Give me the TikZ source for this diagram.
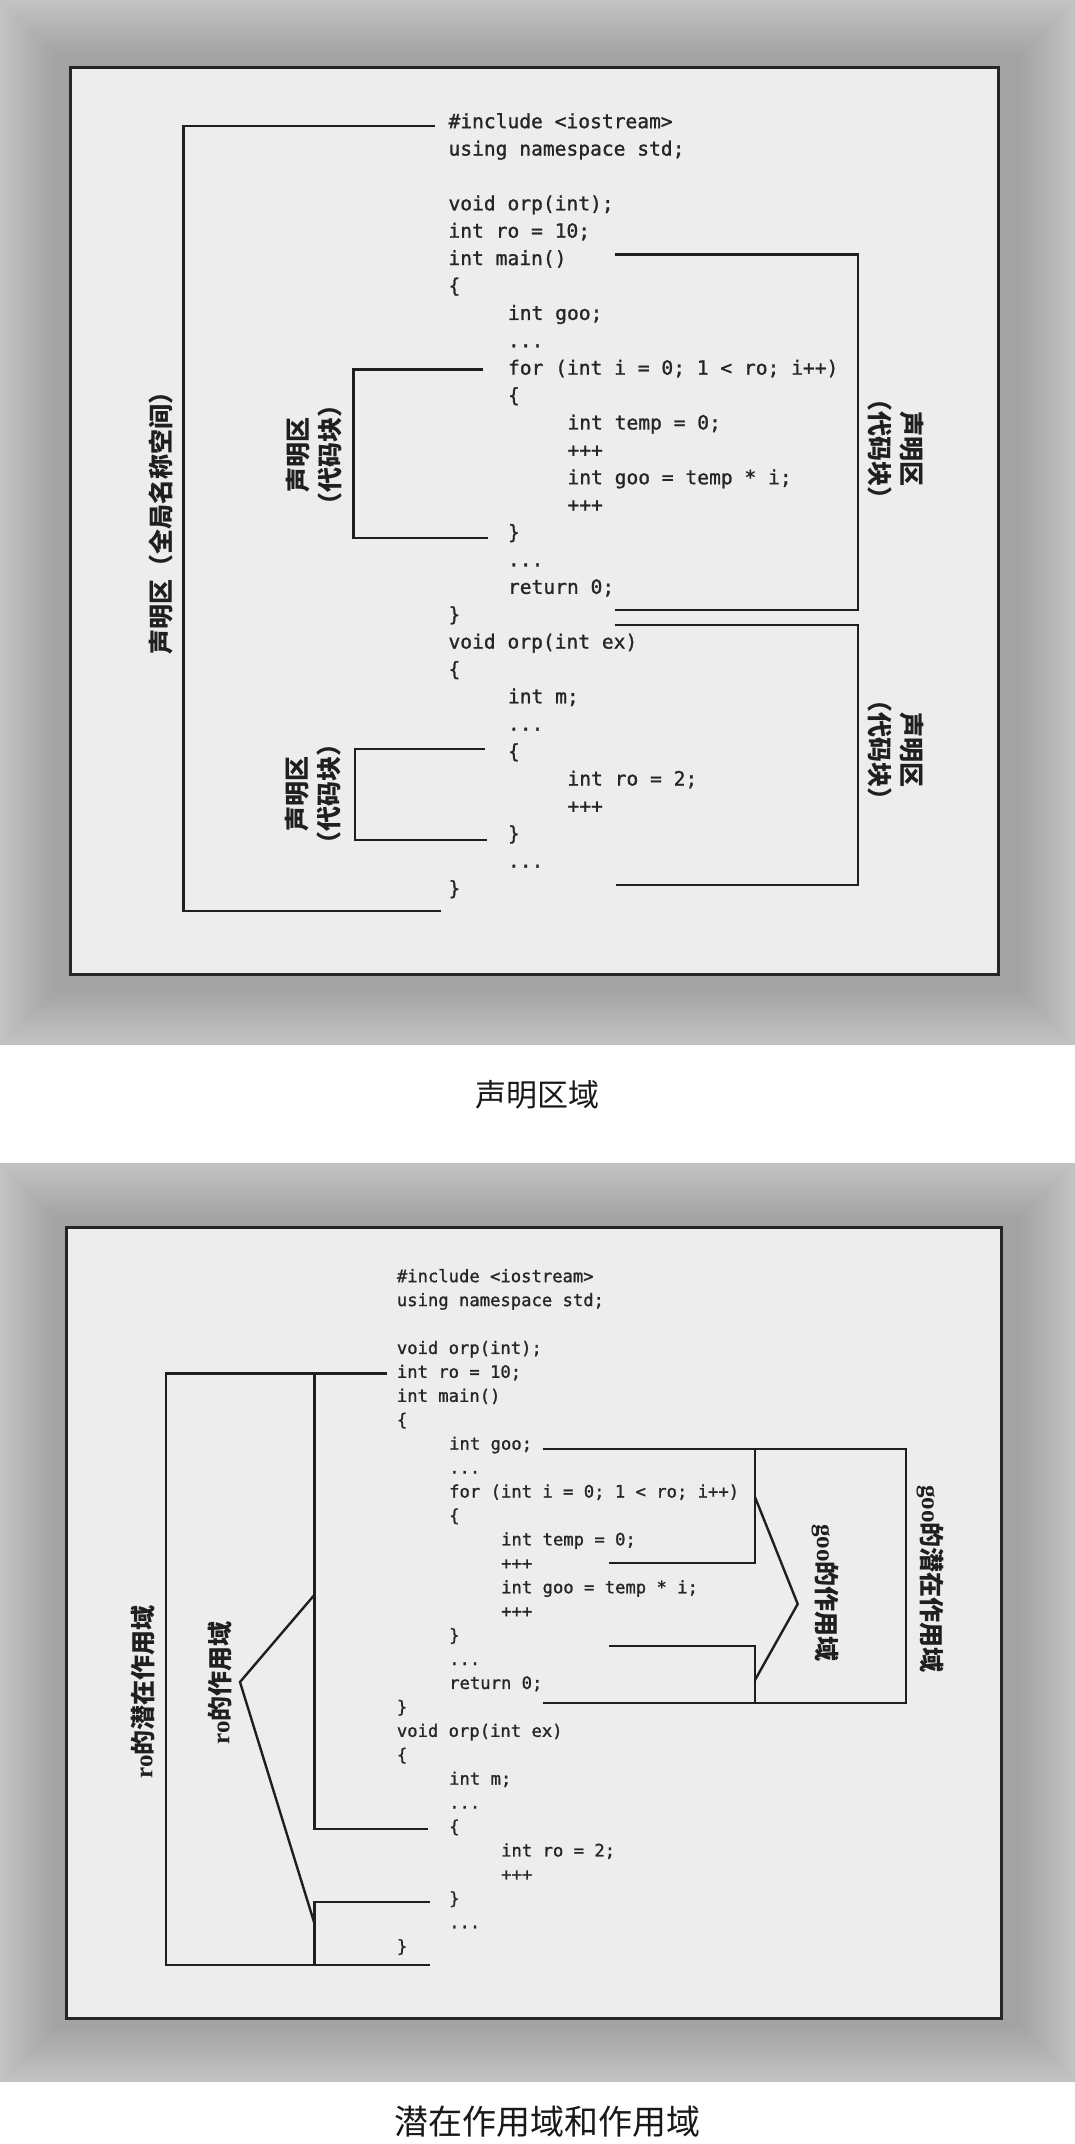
\documentclass[tikz,border=0pt]{standalone}
\usepackage{fontspec}
\newfontfamily\codefont{DejaVu Sans Mono}[FakeBold=1.2]
\newfontfamily\cjk{Noto Sans CJK SC}
\newfontfamily\lat{Liberation Serif}
\usetikzlibrary{calc}
\begin{document}
\begin{tikzpicture}[x=1pt,y=-1pt,line join=miter,
  brk/.style={line width=2.4pt,draw=black!88},
  frm/.style={line width=3pt,draw=black!85,fill=black!7},
  codeT/.style={font=\codefont\fontsize{19.6}{24}\selectfont,anchor=mid west,inner sep=0pt,text=black!85},
  codeB/.style={font=\codefont\fontsize{17.2}{21}\selectfont,anchor=mid west,inner sep=0pt,text=black!85},
  lbl/.style={font=\cjk\bfseries\fontsize{25}{32}\selectfont,align=center,inner sep=0pt,text=black!88},
  capt/.style={inner sep=0pt,text=black!90}]
\useasboundingbox (0,0) rectangle (1075,2144);
\fill[white] (0,0) rectangle (1075,2144);
% ---------- shadows ----------
\foreach \i in {0,...,12}{
  \pgfmathsetmacro\c{24+1.0*\i}
  \fill[black!\c] ({\i*4.5},{\i*4.5}) rectangle ({1075-\i*4.5},{1045-\i*4.5});
  \fill[black!\c] ({\i*4.5},{1163+\i*4.5}) rectangle ({1075-\i*4.5},{2082-\i*4.5});
}
% ---------- frames ----------
\node[frm,draw,minimum width=928pt,minimum height=907.6pt,inner sep=0pt,anchor=north west] (frameT) at (69,65.7) {};
\node[frm,draw,minimum width=935pt,minimum height=791pt,inner sep=0pt,anchor=north west] (frameB) at (65,1226) {};
% ---------- top code ----------
\def\tA{448.3}\def\tB{507.8}\def\tC{567.3}
\node[codeT] (t0)  at (\tA,{126+27.39*0})  {\#include <iostream>};
\node[codeT] (t1)  at (\tA,{126+27.39*1})  {using namespace std;};
\node[codeT] (t3)  at (\tA,{126+27.39*3})  {void orp(int);};
\node[codeT] (t4)  at (\tA,{126+27.39*4})  {int ro = 10;};
\node[codeT] (t5)  at (\tA,{126+27.39*5})  {int main()};
\node[codeT] (t6)  at (\tA,{126+27.39*6})  {\{};
\node[codeT] (t7)  at (\tB,{126+27.39*7})  {int goo;};
\node[codeT] (t8)  at (\tB,{126+27.39*8})  {...};
\node[codeT] (t9)  at (\tB,{126+27.39*9})  {for (int i = 0; 1 < ro; i++)};
\node[codeT] (t10) at (\tB,{126+27.39*10}) {\{};
\node[codeT] (t11) at (\tC,{126+27.39*11}) {int temp = 0;};
\node[codeT] (t12) at (\tC,{126+27.39*12}) {+++};
\node[codeT] (t13) at (\tC,{126+27.39*13}) {int goo = temp * i;};
\node[codeT] (t14) at (\tC,{126+27.39*14}) {+++};
\node[codeT] (t15) at (\tB,{126+27.39*15}) {\}};
\node[codeT] (t16) at (\tB,{126+27.39*16}) {...};
\node[codeT] (t17) at (\tB,{126+27.39*17}) {return 0;};
\node[codeT] (t18) at (\tA,{126+27.39*18}) {\}};
\node[codeT] (t19) at (\tA,{126+27.39*19}) {void orp(int ex)};
\node[codeT] (t20) at (\tA,{126+27.39*20}) {\{};
\node[codeT] (t21) at (\tB,{126+27.39*21}) {int m;};
\node[codeT] (t22) at (\tB,{126+27.39*22}) {...};
\node[codeT] (t23) at (\tB,{126+27.39*23}) {\{};
\node[codeT] (t24) at (\tC,{126+27.39*24}) {int ro = 2;};
\node[codeT] (t25) at (\tC,{126+27.39*25}) {+++};
\node[codeT] (t26) at (\tB,{126+27.39*26}) {\}};
\node[codeT] (t27) at (\tB,{126+27.39*27}) {...};
\node[codeT] (t28) at (\tA,{126+27.39*28}) {\}};
% ---------- top brackets ----------
\coordinate (gA) at (435,125.7);   \coordinate (gB) at (183.3,125.7);
\coordinate (gC) at (183.3,910.7); \coordinate (gD) at (440.7,910.7);
\draw[brk] (gA) -- (gB) -- (gC) -- (gD);
\coordinate (fA) at (483.3,369.3); \coordinate (fB) at (353.3,369.3);
\coordinate (fC) at (353.3,538);   \coordinate (fD) at (488,538);
\draw[brk] (fA) -- (fB) -- (fC) -- (fD);
\coordinate (eA) at (485,749);     \coordinate (eB) at (355,749);
\coordinate (eC) at (355,840);     \coordinate (eD) at (487,840);
\draw[brk] (eA) -- (eB) -- (eC) -- (eD);
\coordinate (mA) at (615,254.3);   \coordinate (mB) at (857.7,254.3);
\coordinate (mC) at (857.7,610);   \coordinate (mD) at (615,610);
\draw[brk] (mA) -- (mB) -- (mC) -- (mD);
\coordinate (oA) at (615,625);     \coordinate (oB) at (857.7,625);
\coordinate (oC) at (857.7,885);   \coordinate (oD) at (615.7,885);
\draw[brk] (oA) -- (oB) -- (oC) -- (oD);
% ---------- top labels ----------
\node[lbl,rotate=90] (lg) at (161,517) {声明区（全局名称空间）};
\node[lbl,rotate=90] (lf) at (314,455) {声明区\\（代码块）};
\node[lbl,rotate=90] (le) at (313,794) {声明区\\（代码块）};
\node[lbl,rotate=-90] (lm) at (896,449) {声明区\\（代码块）};
\node[lbl,rotate=-90] (lo) at (896,750) {声明区\\（代码块）};
% ---------- captions ----------
\node[capt,font=\cjk\fontsize{31}{36}\selectfont] (cap1) at (537,1095) {声明区域};
\node[capt,font=\cjk\fontsize{34}{40}\selectfont] (cap2) at (547,2122) {潜在作用域和作用域};
% ---------- bottom code ----------
\def\bA{396.7}\def\bB{449.0}\def\bC{501.0}
\node[codeB] (b0)  at (\bA,{1280+23.93*0})  {\#include <iostream>};
\node[codeB] (b1)  at (\bA,{1280+23.93*1})  {using namespace std;};
\node[codeB] (b3)  at (\bA,{1280+23.93*3})  {void orp(int);};
\node[codeB] (b4)  at (\bA,{1280+23.93*4})  {int ro = 10;};
\node[codeB] (b5)  at (\bA,{1280+23.93*5})  {int main()};
\node[codeB] (b6)  at (\bA,{1280+23.93*6})  {\{};
\node[codeB] (b7)  at (\bB,{1280+23.93*7})  {int goo;};
\node[codeB] (b8)  at (\bB,{1280+23.93*8})  {...};
\node[codeB] (b9)  at (\bB,{1280+23.93*9})  {for (int i = 0; 1 < ro; i++)};
\node[codeB] (b10) at (\bB,{1280+23.93*10}) {\{};
\node[codeB] (b11) at (\bC,{1280+23.93*11}) {int temp = 0;};
\node[codeB] (b12) at (\bC,{1280+23.93*12}) {+++};
\node[codeB] (b13) at (\bC,{1280+23.93*13}) {int goo = temp * i;};
\node[codeB] (b14) at (\bC,{1280+23.93*14}) {+++};
\node[codeB] (b15) at (\bB,{1280+23.93*15}) {\}};
\node[codeB] (b16) at (\bB,{1280+23.93*16}) {...};
\node[codeB] (b17) at (\bB,{1280+23.93*17}) {return 0;};
\node[codeB] (b18) at (\bA,{1280+23.93*18}) {\}};
\node[codeB] (b19) at (\bA,{1280+23.93*19}) {void orp(int ex)};
\node[codeB] (b20) at (\bA,{1280+23.93*20}) {\{};
\node[codeB] (b21) at (\bB,{1280+23.93*21}) {int m;};
\node[codeB] (b22) at (\bB,{1280+23.93*22}) {...};
\node[codeB] (b23) at (\bB,{1280+23.93*23}) {\{};
\node[codeB] (b24) at (\bC,{1280+23.93*24}) {int ro = 2;};
\node[codeB] (b25) at (\bC,{1280+23.93*25}) {+++};
\node[codeB] (b26) at (\bB,{1280+23.93*26}) {\}};
\node[codeB] (b27) at (\bB,{1280+23.93*27}) {...};
\node[codeB] (b28) at (\bA,{1280+23.93*28}) {\}};
% ---------- ro brackets ----------
\coordinate (rA) at (386.7,1373.3); \coordinate (rB) at (166,1373.3);
\coordinate (rC) at (166,1965);     \coordinate (rD) at (430,1965);
\draw[brk] (rA) -- (rB) -- (rC) -- (rD);
\coordinate (sA) at (314.3,1373.3); \coordinate (sB) at (314.3,1829);
\coordinate (sC) at (428,1829);
\draw[brk] (sA) -- (sB) -- (sC);
\coordinate (sD) at (430,1901.7);   \coordinate (sE) at (314.3,1901.7);
\coordinate (sF) at (314.3,1965);
\draw[brk] (sD) -- (sE) -- (sF);
\coordinate (vA) at (314.3,1595);   \coordinate (vB) at (240,1682);
\coordinate (vC) at (314.3,1923);
\draw[brk] (vA) -- (vB) -- (vC);
% ---------- goo brackets ----------
\coordinate (pA) at (543,1449);     \coordinate (pB) at (906,1449);
\coordinate (pC) at (906,1703);     \coordinate (pD) at (543,1703);
\draw[brk] (pA) -- (pB) -- (pC) -- (pD);
\coordinate (qA) at (755,1449);     \coordinate (qB) at (755,1563);
\coordinate (qC) at (609,1563);
\draw[brk] (qA) -- (qB) -- (qC);
\coordinate (qD) at (609,1645.7);   \coordinate (qE) at (755,1645.7);
\coordinate (qF) at (755,1703);
\draw[brk] (qD) -- (qE) -- (qF);
\coordinate (wA) at (755,1497);     \coordinate (wB) at (797.7,1604);
\coordinate (wC) at (755,1680);
\draw[brk] (wA) -- (wB) -- (wC);
% ---------- bottom labels ----------
\node[lbl,rotate=90] (lrp) at (143,1692) {{\lat\bfseries ro}的潜在作用域};
\node[lbl,rotate=90] (lrs) at (220,1683) {{\lat\bfseries ro}的作用域};
\node[lbl,rotate=-90] (lgs) at (825,1593) {{\lat\bfseries goo}的作用域};
\node[lbl,rotate=-90] (lgp) at (930,1579) {{\lat\bfseries goo}的潜在作用域};
\end{tikzpicture}
\end{document}
